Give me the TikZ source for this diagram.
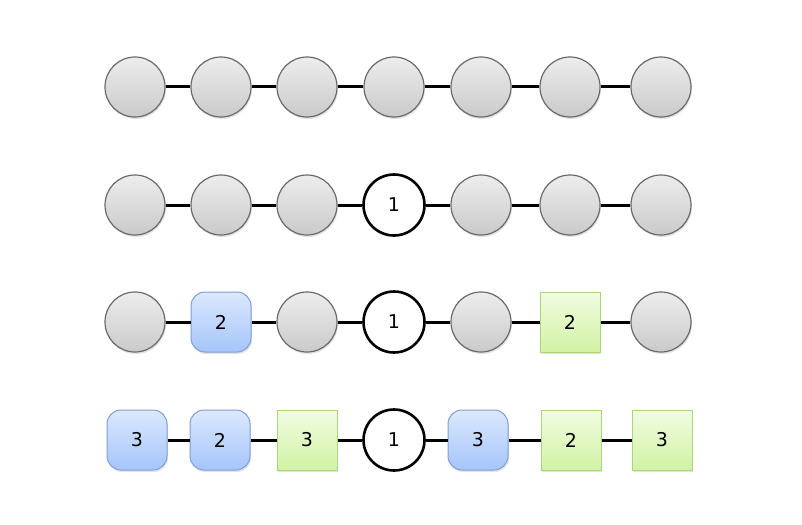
\documentclass[tikz,border=0pt]{standalone}
\usepackage{fontspec}
\setmainfont{DejaVu Sans}
\usetikzlibrary{shadows}
\definecolor{grayTop}{HTML}{EDEDED}
\definecolor{grayBot}{HTML}{CACACA}
\definecolor{grayLine}{HTML}{6A6A6A}
\definecolor{blueTop}{HTML}{DCE8FE}
\definecolor{blueBot}{HTML}{A5C5FA}
\definecolor{blueLine}{HTML}{7F9FD6}
\definecolor{greenTop}{HTML}{F2FCE2}
\definecolor{greenBot}{HTML}{D2F2A4}
\definecolor{greenLine}{HTML}{A9D482}
\begin{document}
\begin{tikzpicture}[x=1pt,y=-1pt,
  base/.style={minimum size=60pt,inner sep=0pt,font=\fontsize{19}{21}\selectfont,
    drop shadow={shadow xshift=1pt,shadow yshift=-2pt,opacity=0.22}},
  graynode/.style={base,circle,draw=grayLine,line width=1.2pt,top color=grayTop,bottom color=grayBot},
  onenode/.style={circle,minimum size=61pt,inner sep=0pt,font=\fontsize{19}{21}\selectfont,draw=black,line width=2.6pt,fill=white},
  bluenode/.style={base,rectangle,rounded corners=14pt,draw=blueLine,line width=1pt,top color=blueTop,bottom color=blueBot},
  greennode/.style={base,rectangle,draw=greenLine,line width=1pt,top color=greenTop,bottom color=greenBot},
  link/.style={line width=3pt,black}]
\useasboundingbox (0,0) rectangle (802,524);
% row 1
\foreach \x [count=\i] in {135,221,307,394,481,570,661}
  \node[graynode] (a\i) at (\x,87) {};
% row 2
\node[graynode] (b1) at (135,205) {};
\node[graynode] (b2) at (221,205) {};
\node[graynode] (b3) at (307,205) {};
\node[onenode] (b4) at (394,205) {1};
\node[graynode] (b5) at (481,205) {};
\node[graynode] (b6) at (570,205) {};
\node[graynode] (b7) at (661,205) {};
% row 3
\node[graynode] (c1) at (135,322) {};
\node[bluenode] (c2) at (221,322) {2};
\node[graynode] (c3) at (307,322) {};
\node[onenode] (c4) at (394,322) {1};
\node[graynode] (c5) at (481,322) {};
\node[greennode] (c6) at (570,322) {2};
\node[graynode] (c7) at (661,322) {};
% row 4
\node[bluenode] (d1) at (137,440) {3};
\node[bluenode] (d2) at (220,440) {2};
\node[greennode] (d3) at (307,440) {3};
\node[onenode] (d4) at (394,440) {1};
\node[bluenode] (d5) at (478,440) {3};
\node[greennode] (d6) at (571,440) {2};
\node[greennode] (d7) at (662,440) {3};
\foreach \r in {a,b,c,d}{
  \foreach \i [evaluate=\i as \j using int(\i+1)] in {1,...,6}
    \draw[link] (\r\i) -- (\r\j);
}
\end{tikzpicture}
\end{document}
